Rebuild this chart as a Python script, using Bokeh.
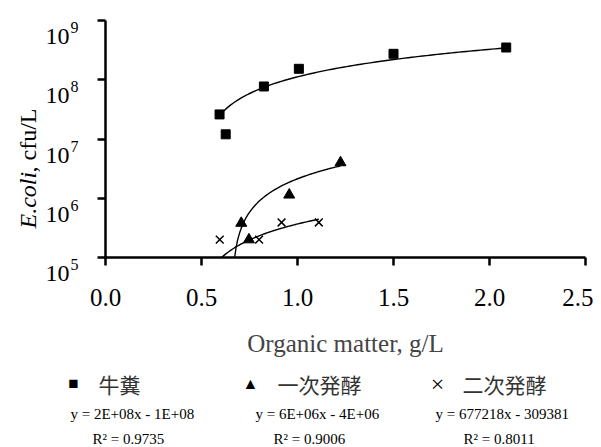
import numpy as np
from bokeh.plotting import figure
from bokeh.models import (Label, SingleIntervalTicker, PrintfTickFormatter,
                          Range1d, FixedTicker)
from bokeh.embed import file_html
from bokeh.resources import INLINE

# ---- data ----
series_names = ["牛糞", "一次発酵", "二次発酵"]
series_symbols = ["■", "▲", "×"]

manure_x = [0.594, 0.626, 0.825, 1.007, 1.50, 2.087]
manure_y = [2.6e7, 1.2e7, 7.7e7, 1.53e8, 2.74e8, 3.5e8]

primary_x = [0.707, 0.747, 0.957, 1.224]
primary_y = [3.8e5, 2.0e5, 1.14e6, 4.0e6]

secondary_x = [0.595, 0.800, 0.917, 1.111]
secondary_y = [2.0e5, 2.0e5, 3.9e5, 3.9e5]

# linear trend lines y = a*x + b (drawn on the log axis)
trend_slope = [2.14e8, 6.2e6, 677218]
trend_intercept = [-1.02e8, -4.07e6, -309381]
trend_x_from = [0.594, 0.66, 0.595]
trend_x_to = [2.087, 1.224, 1.111]

equations = ["y = 2E+08x - 1E+08", "y = 6E+06x - 4E+06", "y = 677218x - 309381"]
r_squared = ["R² = 0.9735", "R² = 0.9006", "R² = 0.8011"]

y_tick_exponents = [5, 6, 7, 8, 9]

x_title = "Organic matter, g/L"
y_title_italic = "E.coli"
y_title_rest = ", cfu/L"

SERIF = "Liberation Serif"
CJK = "Noto Sans CJK JP"

W, H = 593, 447
# axes box (pixels): x 0..2.5 from 105 to 585, y 1e5..1e9 from 257 to 20
FL, FR, FT, FB = 105, 585, 20, 257
X0, X1, E0, E1 = 0.0, 2.5, 5, 9


def dx(px):
    return X0 + (px - FL) / (FR - FL) * (X1 - X0)


def dy(py):
    return 10 ** (E0 + (FB - py) / (FB - FT) * (E1 - E0))


# the frame covers the whole canvas; the axes sit at fixed locations inside it
p = figure(width=W, height=H, y_axis_type="log",
           x_range=Range1d(dx(0), dx(W)), y_range=Range1d(dy(H), dy(0)),
           output_backend="svg", toolbar_location=None,
           min_border_left=0, min_border_top=0,
           min_border_right=0, min_border_bottom=0)
p.outline_line_color = None
p.xgrid.visible = False
p.ygrid.visible = False

for ax in (p.xaxis[0], p.yaxis[0]):
    ax.axis_line_width = 2.5
    ax.axis_line_color = "black"
    ax.major_tick_line_width = 2.5
    ax.major_tick_line_color = "black"
    ax.major_tick_in = 0
    ax.major_tick_out = 8
    ax.minor_tick_line_color = None
    ax.major_label_text_font = SERIF
    ax.major_label_text_font_size = "25px"
    ax.major_label_text_color = "black"

p.xaxis.fixed_location = 10.0 ** E0
p.xaxis.bounds = (X0, X1)
p.xaxis.ticker = SingleIntervalTicker(interval=0.5, num_minor_ticks=0)
p.xaxis.formatter = PrintfTickFormatter(format="%.1f")
p.xaxis.major_label_standoff = 23
p.xaxis.axis_label = x_title
p.xaxis.axis_label_text_font = SERIF
p.xaxis.axis_label_text_font_style = "normal"
p.xaxis.axis_label_text_font_size = "25px"
p.xaxis.axis_label_standoff = 21

p.yaxis.fixed_location = X0
p.yaxis.bounds = (10.0 ** E0, 10.0 ** E1)
p.yaxis.ticker = FixedTicker(ticks=[10.0 ** e for e in y_tick_exponents])
p.yaxis.major_label_text_color = None
p.yaxis.major_label_text_font_size = "12px"

# y tick labels: "10" with a raised exponent, sitting just under each tick
for e in y_tick_exponents:
    ty = FB - (e - E0) / (E1 - E0) * (FB - FT)
    p.add_layout(Label(x=dx(69), y=dy(ty + 16), text="10", text_font=SERIF,
                       text_font_size="24px", text_align="right",
                       text_baseline="alphabetic", text_color="black"))
    p.add_layout(Label(x=dx(70), y=dy(ty + 7), text=str(e), text_font=SERIF,
                       text_font_size="16px", text_align="left",
                       text_baseline="alphabetic", text_color="black"))

# trend lines, kept above the x axis
for a, b, x0, x1 in zip(trend_slope, trend_intercept, trend_x_from, trend_x_to):
    x_start = max(x0, (10.0 ** E0 - b) / a)
    xs = np.linspace(x_start, x1, 80)
    p.line(xs, a * xs + b, line_color="black", line_width=1.4)

p.scatter(manure_x, manure_y, marker="square", size=9,
          fill_color="black", line_color="black")
p.scatter(primary_x, primary_y, marker="triangle", size=11,
          fill_color="black", line_color="black")
p.scatter(secondary_x, secondary_y, marker="x", size=11,
          line_color="black", line_width=1.5)

# legend row under the plot
sym_px = [73, 250, 437]
name_px = [98, 277, 462]
sym_size = ["17px", "16px", "24px"]
for s, n, sx, nx, ss in zip(series_symbols, series_names, sym_px, name_px, sym_size):
    p.add_layout(Label(x=dx(sx), y=dy(383), text=s, text_font=SERIF,
                       text_font_size=ss, text_align="center",
                       text_baseline="middle", text_color="black"))
    p.add_layout(Label(x=dx(nx), y=dy(383), text=n, text_font=CJK,
                       text_font_size="21px", text_align="left",
                       text_baseline="middle", text_color="#333333"))

eq_px = [70, 255, 435]
r2_px = [92, 273, 463]
for t, xx in zip(equations, eq_px):
    p.add_layout(Label(x=dx(xx), y=dy(413), text=t, text_font=SERIF,
                       text_font_size="15px", text_align="left",
                       text_baseline="alphabetic", text_color="black"))
for t, xx in zip(r_squared, r2_px):
    p.add_layout(Label(x=dx(xx), y=dy(438), text=t, text_font=SERIF,
                       text_font_size="15px", text_align="left",
                       text_baseline="alphabetic", text_color="black"))

# y axis title: italic part + normal part, rotated
p.add_layout(Label(x=dx(27), y=dy(228), text=y_title_italic, angle=90,
                   angle_units="deg", text_font=SERIF, text_font_style="italic",
                   text_font_size="24px", text_align="left",
                   text_baseline="alphabetic", text_color="black"))
p.add_layout(Label(x=dx(27), y=dy(172), text=y_title_rest, angle=90,
                   angle_units="deg", text_font=SERIF, text_font_size="24px",
                   text_align="left", text_baseline="alphabetic",
                   text_color="black"))

open("out.html", "w").write(file_html(p, INLINE))
